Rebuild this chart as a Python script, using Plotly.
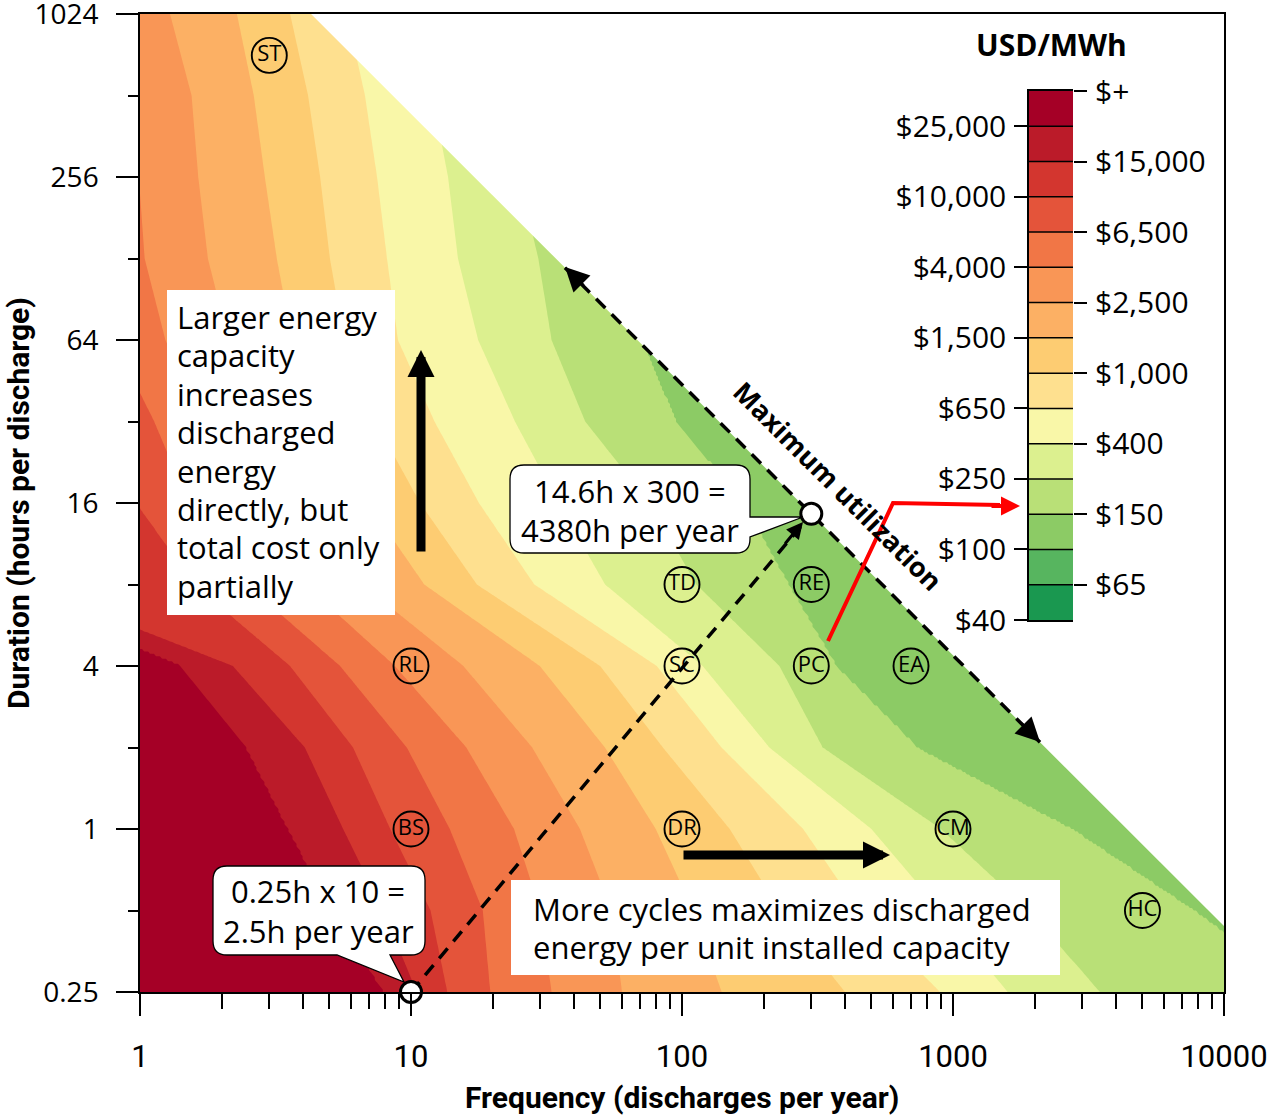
import numpy as np
import plotly.graph_objects as go

# ---------------- data ----------------
DURATIONS = [0.25, 0.5, 1, 2, 4, 8, 16, 32, 64, 128, 256, 512, 1024]
LEVELS = [40, 65, 100, 150, 250, 400, 650, 1000, 1500, 2500, 4000, 6500, 10000, 15000, 25000]
CB_LEFT_TEXT = ["$40", "$100", "$250", "$650", "$1,500", "$4,000", "$10,000", "$25,000"]
CB_RIGHT_TEXT = ["$65", "$150", "$400", "$1,000", "$2,500", "$6,500", "$15,000", "$+"]
BAND_COLORS = ["#1a9850", "#57b55f", "#8ccb65", "#b9e077", "#dcf08f", "#f9f7a8",
               "#fee08f", "#fdcc72", "#fcb064", "#f99656", "#f17646", "#e4543a",
               "#d3362f", "#bb1b29", "#a50026"]
X_TICKS = [1, 10, 100, 1000, 10000]
X_TICK_TEXT = ["1", "10", "100", "1000", "10000"]
Y_TICKS = [0.25, 1, 4, 16, 64, 256, 1024]
Y_TICK_TEXT = ["0.25", "1", "4", "16", "64", "256", "1024"]

# Cost levels (USD/MWh) whose boundaries are traced below, from most to least expensive
TRACED_LEVELS = [25000, 15000, 10000, 6500, 4000, 2500, 1500, 1000, 650, 400, 250, 150]
# For each duration row: discharges per year at which the cost falls to each traced level
# (values left of 1 or right of the max-utilization edge are estimates outside the view)
CROSS_0_25 = [7.87, 10.5, 13.6, 19.6, 33, 60, 140, 400, 897, 1590, 3480, 20000]
CROSS_0_5 = [5.03, 7.9, 11.8, 18.4, 30, 55, 110, 230, 450, 900, 1900, 7900]
CROSS_1 = [3.48, 5.62, 8.38, 13.9, 24, 42, 80, 150, 280, 500, 900, 2800]
CROSS_2 = [2.44, 4.06, 6.11, 9.65, 16, 28, 52, 85, 140, 210, 330, 750]
CROSS_4 = [1.4, 2.2, 3.58, 5.47, 8.72, 15.6, 29.9, 49.9, 80.8, 119, 229, 375]
CROSS_8 = [0.26, 0.37, 1.59, 2.47, 4.06, 6.61, 11.2, 17.5, 28.5, 52, 113, 250]
CROSS_16 = [0.2, 0.3, 0.97, 1.51, 2.48, 4.04, 6.94, 10.8, 17.8, 35, 76, 171]
CROSS_32 = [0.15, 0.25, 0.55, 1.13, 1.70, 2.76, 4.74, 7.39, 12.2, 24.2, 43.9, 96]
CROSS_64 = [0.1, 0.2, 0.45, 0.8, 1.24, 2.12, 3.64, 5.67, 8.94, 17.7, 33, 72]
CROSS_128 = [0.08, 0.16, 0.35, 0.65, 1.04, 1.78, 3.2, 5.02, 8.15, 14.9, 29.5, 60]
CROSS_256 = [0.07, 0.14, 0.3, 0.6, 0.99, 1.64, 2.89, 4.62, 7.49, 13.7, 25, 50]
CROSS_512 = [0.06, 0.12, 0.27, 0.55, 0.9, 1.55, 2.63, 4.17, 6.76, 12, 22, 45]
CROSS_1024 = [0.05, 0.1, 0.25, 0.5, 0.8, 1.29, 2.28, 3.58, 5.8, 10, 19, 40]
CROSSINGS = [CROSS_0_25, CROSS_0_5, CROSS_1, CROSS_2, CROSS_4, CROSS_8, CROSS_16,
             CROSS_32, CROSS_64, CROSS_128, CROSS_256, CROSS_512, CROSS_1024]

MAX_UTIL_HOURS = 4380          # 14.6 h x 300 discharges
EX_FREQ = [10, 300]             # worked examples
EX_DUR = [0.25, 14.6]
MAX_UTIL_ARROW_FREQ = [37, 2094]

TECH = ["ST", "RL", "BS", "TD", "SC", "DR", "RE", "PC", "EA", "CM", "HC"]
TECH_FREQ = [3, 10, 10, 100, 100, 100, 300, 300, 700, 1000, 5000]
TECH_DUR = [720, 4, 1, 8, 4, 1, 8, 4, 4, 1, 0.5]

# ---------------- table for the contour (cost-level index space) ----------------
FGRID = np.logspace(0, 4, 541)
DGRID = np.logspace(np.log10(0.25), np.log10(1024), 397)
lf = np.log10(FGRID)
row_ld = np.log2(DURATIONS)
LX = np.log10(np.array(CROSSINGS, dtype=float))
IDX = [LEVELS.index(l) for l in TRACED_LEVELS]
Z = []
for d in DGRID:
    pos = [np.interp(np.log2(d), row_ld, LX[:, j]) for j in range(len(IDX))]
    Z.append(np.interp(lf, pos, IDX, left=IDX[0] + 0.5, right=IDX[-1] - 0.5))
Z = np.array(Z)

colorscale = [[k / 14, c] for k, c in enumerate(BAND_COLORS)]

# ---------------- pixel helpers for decorations ----------------
PL, PT, PW, PH = 140, 14, 1084, 978


def px(X):
    return (X - PL) / PW


def py(Y):
    return (PT + PH - Y) / PH


def path(cmds):
    out = []
    for c in cmds:
        if c[0] == "Z":
            out.append("Z")
        elif c[0] == "Q":
            out.append("Q%.5f,%.5f %.5f,%.5f" % (px(c[1]), py(c[2]), px(c[3]), py(c[4])))
        else:
            out.append("%s%.5f,%.5f" % (c[0], px(c[1]), py(c[2])))
    return " ".join(out)


BODY = "Open Sans"
fig = go.Figure()

fig.add_trace(go.Contour(
    x=FGRID, y=DGRID, z=Z,
    contours=dict(start=1, end=14, size=1, coloring="fill", showlines=False),
    colorscale=colorscale, showscale=False, line=dict(width=0), hoverinfo="skip"))

# region beyond maximum utilization
fx = [MAX_UTIL_HOURS / 1500, 15000, 15000]
fy = [1500, MAX_UTIL_HOURS / 15000, 1500]
fig.add_trace(go.Scatter(x=fx, y=fy, fill="toself", fillcolor="white", mode="lines",
                         line=dict(width=0, color="white"), hoverinfo="skip", showlegend=False))

# dashed maximum-utilization line
fig.add_trace(go.Scatter(x=MAX_UTIL_ARROW_FREQ, y=[MAX_UTIL_HOURS / f for f in MAX_UTIL_ARROW_FREQ],
                         mode="lines", line=dict(color="black", width=3.5, dash="13px,9px"),
                         hoverinfo="skip", showlegend=False))
# dashed example line
fig.add_trace(go.Scatter(x=EX_FREQ, y=EX_DUR, mode="lines",
                         line=dict(color="black", width=3.5, dash="13px,9px"),
                         hoverinfo="skip", showlegend=False))
# example points
fig.add_trace(go.Scatter(x=EX_FREQ, y=EX_DUR, mode="markers", cliponaxis=False,
                         marker=dict(size=21, color="white", line=dict(color="black", width=3)),
                         hoverinfo="skip", showlegend=False))
# technology labels
fig.add_trace(go.Scatter(x=TECH_FREQ, y=TECH_DUR, mode="markers+text", text=TECH,
                         textposition="middle center",
                         textfont=dict(family=BODY, size=22, color="black"),
                         marker=dict(size=35, color="rgba(0,0,0,0)", line=dict(color="black", width=1.9)),
                         hoverinfo="skip", showlegend=False))

# colorbar as a small heatmap
fig.add_trace(go.Heatmap(z=[[k] for k in range(15)], x=[0], y=[k + 0.5 for k in range(15)],
                         colorscale=colorscale, zmin=0, zmax=14, showscale=False,
                         xaxis="x2", yaxis="y2", hoverinfo="skip"))
fig.add_trace(go.Scatter(x=[0], y=[0], xaxis="x2", yaxis="y3", mode="markers",
                         marker=dict(opacity=0), hoverinfo="skip", showlegend=False))

axis_common = dict(showgrid=False, zeroline=False, showline=True, linecolor="black",
                   linewidth=1.5, ticks="outside", tickcolor="black", tickwidth=1.5,
                   ticklabeloverflow="allow")

minor_x = [m * 10 ** e for e in range(4) for m in range(2, 10)]
fig.update_layout(
    width=1270, height=1115,
    margin=dict(l=PL, r=1270 - PL - PW, t=PT, b=1115 - PT - PH, autoexpand=False),
    paper_bgcolor="white", plot_bgcolor="white",
    font=dict(family=BODY, color="black"),
    xaxis=dict(type="log", range=[0, 4], tickvals=X_TICKS, ticktext=X_TICK_TEXT,
               ticklen=22, mirror=True, ticklabelstandoff=14,
               tickfont=dict(family="Roboto", size=31, color="black"),
               minor=dict(tickvals=minor_x, ticklen=15, tickwidth=1.5, tickcolor="black",
                          ticks="outside", showgrid=False),
               **axis_common),
    yaxis=dict(type="log", range=[np.log10(0.25), np.log10(1024)], tickvals=Y_TICKS,
               ticktext=Y_TICK_TEXT, ticklen=22, mirror=True, ticklabelstandoff=12,
               tickfont=dict(family=BODY, size=28, color="black"),
               minor=dict(tickvals=[0.5, 2, 8, 32, 128, 512], ticklen=10, tickwidth=1.5,
                          tickcolor="black", ticks="outside", showgrid=False),
               **axis_common),
    xaxis2=dict(domain=[px(1029), px(1073)], anchor="y2", range=[-0.5, 0.5],
                showticklabels=False, showgrid=False, zeroline=False, showline=True,
                mirror=True, linecolor="black", linewidth=1.5, ticks=""),
    yaxis2=dict(domain=[py(620), py(91)], anchor="x2", range=[0, 15], side="left",
                tickvals=list(range(0, 15, 2)), ticktext=CB_LEFT_TEXT, ticklen=13,
                ticklabelstandoff=2, tickfont=dict(family=BODY, size=30, color="black"),
                **axis_common),
    yaxis3=dict(overlaying="y2", anchor="x2", side="right", range=[0, 15],
                tickvals=list(range(1, 16, 2)), ticktext=CB_RIGHT_TEXT, ticklen=13,
                ticklabelstandoff=2, tickfont=dict(family=BODY, size=30, color="black"),
                showgrid=False, zeroline=False, showline=False, ticks="outside",
                tickcolor="black", tickwidth=1.5),
)

shapes = []
for k in range(1, 15):
    shapes.append(dict(type="line", xref="x2 domain", yref="y2", x0=0, x1=1, y0=k, y1=k,
                       line=dict(color="black", width=1.5)))
# text boxes
shapes.append(dict(type="rect", xref="paper", yref="paper", x0=px(167), x1=px(395),
                   y0=py(615), y1=py(290), fillcolor="white", line=dict(width=0)))
shapes.append(dict(type="rect", xref="paper", yref="paper", x0=px(511), x1=px(1060),
                   y0=py(975), y1=py(880), fillcolor="white", line=dict(width=0)))
# callouts
r = 14
shapes.append(dict(type="path", xref="paper", yref="paper", fillcolor="white",
                   line=dict(color="black", width=1.3),
                   path=path([("M", 510 + r, 465), ("L", 750 - r, 465), ("Q", 750, 465, 750, 465 + r),
                              ("L", 750, 517), ("L", 803, 517), ("L", 750, 537),
                              ("L", 750, 553 - r), ("Q", 750, 553, 750 - r, 553),
                              ("L", 510 + r, 553), ("Q", 510, 553, 510, 553 - r),
                              ("L", 510, 465 + r), ("Q", 510, 465, 510 + r, 465), ("Z",)])))
shapes.append(dict(type="path", xref="paper", yref="paper", fillcolor="white",
                   line=dict(color="black", width=1.3),
                   path=path([("M", 213 + r, 866), ("L", 425 - r, 866), ("Q", 425, 866, 425, 866 + r),
                              ("L", 425, 955 - r), ("Q", 425, 955, 425 - r, 955),
                              ("L", 390, 955), ("L", 404, 982), ("L", 337, 955),
                              ("L", 213 + r, 955), ("Q", 213, 955, 213, 955 - r),
                              ("L", 213, 866 + r), ("Q", 213, 866, 213 + r, 866), ("Z",)])))
# red pointer
shapes.append(dict(type="path", xref="paper", yref="paper",
                   line=dict(color="#ff0000", width=4),
                   path=path([("M", 828, 641), ("L", 893, 503), ("L", 1000, 505)])))
fig.update_layout(shapes=shapes)

ann = []


def text(X, Y, s, size=31, anchor="left", bold=False, family=BODY, angle=0):
    ann.append(dict(xref="paper", yref="paper", x=px(X), y=py(Y), text=("<b>%s</b>" % s) if bold else s,
                    showarrow=False, xanchor=anchor, yanchor="middle", textangle=angle,
                    font=dict(family=family, size=size, color="black")))


box1 = ["Larger energy", "capacity", "increases", "discharged", "energy",
        "directly, but", "total cost only", "partially"]
for i, s in enumerate(box1):
    text(175, 317 + i * 38.4, s)
text(531, 909, "More cycles maximizes discharged")
text(531, 947, "energy per unit installed capacity")
text(630, 491, "14.6h x 300 =", anchor="center")
text(630, 530, "4380h per year", anchor="center")
text(318, 891, "0.25h x 10 =", anchor="center")
text(318, 931, "2.5h per year", anchor="center")
text(1051, 45, "USD/MWh", size=30, anchor="center", bold=True)
text(838, 485, "Maximum utilization", size=27, anchor="center", bold=True, angle=45)
text(682, 1097, "Frequency (discharges per year)", size=30, anchor="center", bold=True, family="Roboto")
text(18, 503, "Duration (hours per discharge)", size=30, anchor="center", bold=True, family="Roboto", angle=-90)


def arrow(X, Y, ax, ay, width, size, color="black", standoff=0):
    ann.append(dict(xref="paper", yref="paper", x=px(X), y=py(Y), ax=ax, ay=ay, text="",
                    showarrow=True, arrowhead=2, arrowwidth=width, arrowsize=size,
                    arrowcolor=color, standoff=standoff))


arrow(421, 350, 0, 203, 9, 0.6)
arrow(890, 855, -208, 0, 9, 0.6)
arrow(1020, 506, -30, 0, 4, 0.95, color="#ff0000")
arrow(565, 267, 20, 20, 3, 1.6)
arrow(1040, 742, -20, -20, 3, 1.6)
arrow(803, 522, -19, 23, 3, 1.1)
fig.update_layout(annotations=ann)

fig.write_html("out.html", config={"displayModeBar": False},
               post_script="document.body.style.margin='0';")
